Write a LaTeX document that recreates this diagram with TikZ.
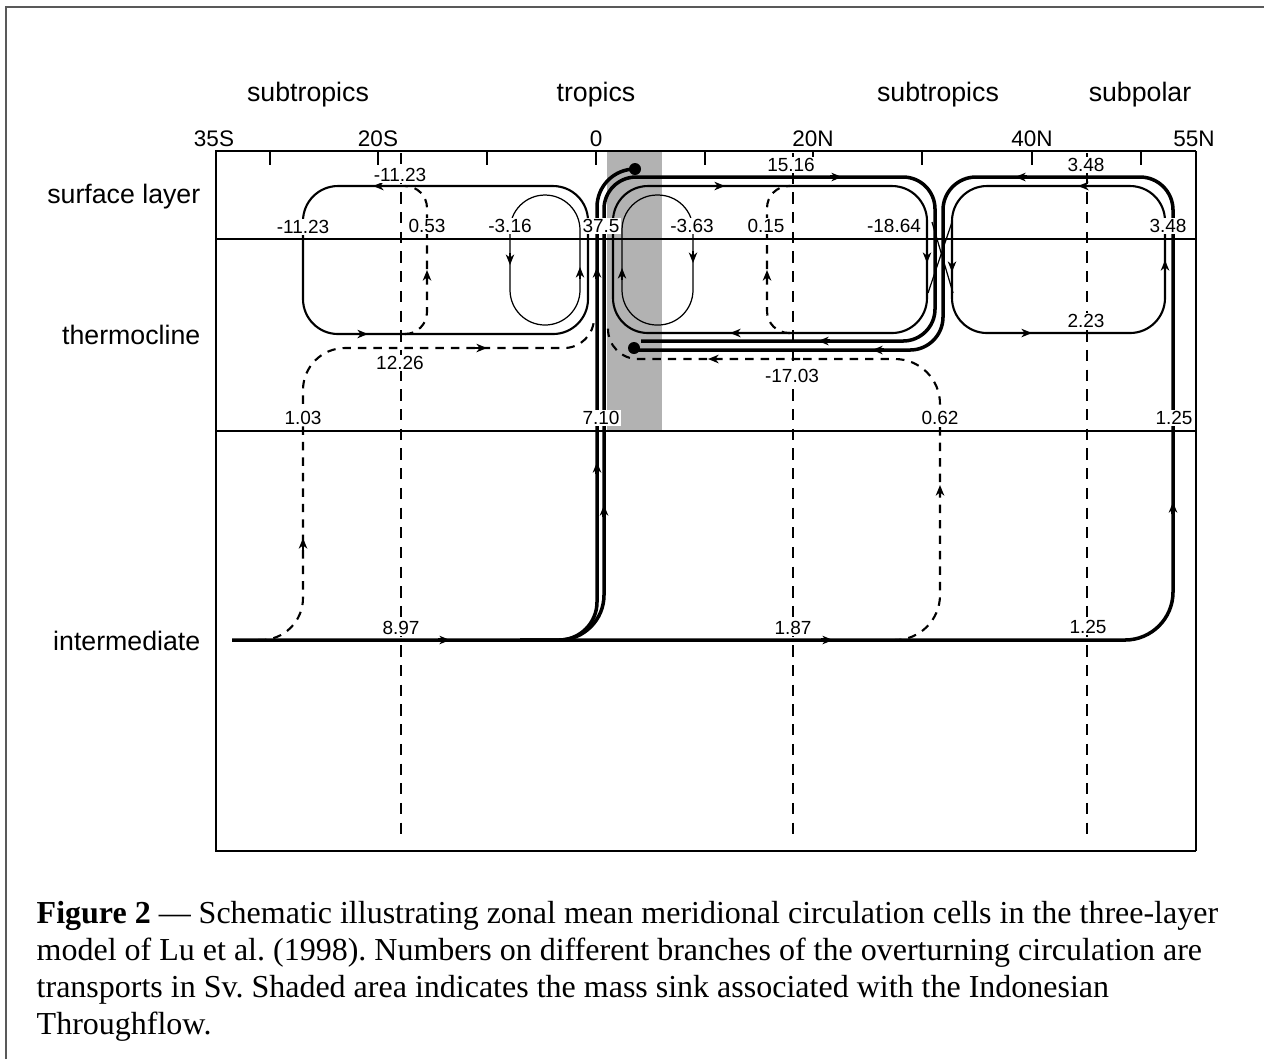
\documentclass[tikz,border=0pt]{standalone}
\usepackage{fontspec}
\setmainfont{Liberation Serif}
\newfontfamily\diagfont{Liberation Sans}
\usepackage{tikz}
\usetikzlibrary{arrows.meta}
\frenchspacing

\begin{document}
\begin{tikzpicture}[x=0.01cm,y=-0.01cm]
          \tikzstyle{frameline}=[line width=0.4pt]
          \tikzstyle{layerline}=[line width=0.35pt]
          \tikzstyle{refdash}=[line width=0.45pt,dash pattern=on 3.2pt off 2.4pt]
          \tikzstyle{thinflow}=[line width=0.35pt]
          \tikzstyle{cellflow}=[line width=0.6pt]
          \tikzstyle{thickflow}=[line width=1pt]
          \tikzstyle{dashflow}=[line width=0.6pt,dash pattern=on 2.4pt off 2pt]
          \tikzstyle{flowtip}=[solid,-{Stealth[length=3pt,width=2.4pt,inset=0.9pt]}]
          \tikzstyle{num}=[font=\diagfont\fontsize{5.4}{6}\selectfont,fill=white,inner sep=0.3pt]
          \tikzstyle{latlabel}=[font=\diagfont\fontsize{6.4}{7}\selectfont,anchor=base,inner sep=0pt]
          \tikzstyle{zonelabel}=[font=\diagfont\fontsize{7.6}{9}\selectfont,anchor=base,inner sep=0pt]
          \tikzstyle{layerlabel}=[font=\diagfont\fontsize{7.6}{9}\selectfont,anchor=base east,inner sep=0pt]
          \tikzstyle{captiontext}=[font=\fontsize{9.1}{10.5}\selectfont,align=left,inner sep=0pt,anchor=north west]
          \useasboundingbox (0,0) rectangle (1264,1059);
          \draw[line width=0.6pt,black!65] (6,1059) -- (6,7) -- (1264,7);
          % mass sink (Indonesian Throughflow)
          \fill[black!30] (607,151) rectangle (662,431);
          % reference latitudes
          \foreach \xx in {401,793,1087}
            \draw[refdash] (\xx,153) -- (\xx,840);
          % frame, layers and ticks
          \draw[frameline] (1196,151) -- (216,151) -- (216,851) -- (1196,851);
          \draw[line width=0.7pt] (1196,151) -- (1196,851);
          \draw[layerline] (216,239) -- (1196,239);
          \draw[layerline] (216,431) -- (1196,431);
          \foreach \xx in {270,378,487,596,705,813,922,1032,1141}
            \draw[frameline] (\xx,151) -- (\xx,165);
          % closed cells
          \draw[cellflow,rounded corners=0.35cm] (303,186) rectangle (588,334);
          \draw[thinflow,rounded corners=0.35cm] (510,195) rectangle (580,325);
          \draw[cellflow,rounded corners=0.35cm] (613,186) rectangle (927,333);
          \draw[thinflow,rounded corners=0.35cm] (622,195) rectangle (693,325);
          \draw[cellflow,rounded corners=0.35cm] (952,186) rectangle (1165,333);
          \draw[thinflow] (932,222) -- (953,293);
          \draw[thinflow] (952,222) -- (928,293);
          % thick branches
          \draw[thickflow,rounded corners=0.48cm] (232,640) -| (1173,420);
          \draw[thickflow,rounded corners=0.33cm] (1173,420) -- (1173,177) -- (943,177) -- (943,350) -- (634,350);
          \draw[thickflow,rounded corners=0.38cm] (520,640) -- (597,640) -- (597,169) -- (635,169);
          \draw[thickflow,rounded corners=0.45cm] (520,640) -- (604,640) -- (604,420);
          \draw[thickflow,rounded corners=0.32cm] (604,420) -- (604,177) -- (935,177) -- (935,341) -- (641,341);
          \fill (635,169) circle[radius=0.06cm];
          \fill (634,348) circle[radius=0.06cm];
          % dashed branches
          \draw[dashflow,rounded corners=0.42cm] (258,640) -- (303,640) -- (303,348) -- (520,348);
          \draw[dashflow,rounded corners=0.3cm] (520,348) -- (594,348) -- (594,318);
          \draw[dashflow,rounded corners=0.22cm] (405,334) -- (427,334) -- (427,186) -- (405,186);
          \draw[dashflow,rounded corners=0.22cm] (790,333) -- (767,333) -- (767,186) -- (790,186);
          \draw[dashflow,rounded corners=0.45cm] (897,640) -- (940,640) -- (940,359) -- (800,359);
          \draw[dashflow,rounded corners=0.3cm] (800,359) -- (608,359) -- (608,327);
          % arrow heads
          \draw[cellflow,flowtip] (385,186) -- (373,186);
          \draw[cellflow,flowtip] (356,334) -- (368,334);
          \draw[thinflow,flowtip] (510,253) -- (510,265);
          \draw[thinflow,flowtip] (580,279) -- (580,267);
          \draw[thickflow,flowtip] (597,279) -- (597,267);
          \draw[thinflow,flowtip] (622,280) -- (622,268);
          \draw[thinflow,flowtip] (693,251) -- (693,263);
          \draw[dashflow,flowtip] (427,282) -- (427,270);
          \draw[dashflow,flowtip] (767,282) -- (767,270);
          \draw[cellflow,flowtip] (713,186) -- (725,186);
          \draw[cellflow,flowtip] (742,333) -- (730,333);
          \draw[thickflow,flowtip] (830,177) -- (842,177);
          \draw[cellflow,flowtip] (927,251) -- (927,263);
          \draw[thickflow,flowtip] (830,341) -- (818,341);
          \draw[thickflow,flowtip] (884,350) -- (872,350);
          \draw[dashflow,flowtip] (720,359) -- (708,359);
          \draw[thickflow,flowtip] (1027,177) -- (1015,177);
          \draw[cellflow,flowtip] (1090,186) -- (1078,186);
          \draw[cellflow,flowtip] (952,260) -- (952,272);
          \draw[cellflow,flowtip] (1165,272) -- (1165,260);
          \draw[cellflow,flowtip] (1020,333) -- (1032,333);
          \draw[thickflow,flowtip] (1173,514) -- (1173,502);
          \draw[thickflow,flowtip] (597,474) -- (597,462);
          \draw[thickflow,flowtip] (604,517) -- (604,505);
          \draw[thickflow,flowtip] (438,640) -- (450,640);
          \draw[thickflow,flowtip] (821,640) -- (833,640);
          \draw[dashflow,flowtip] (303,550) -- (303,538);
          \draw[dashflow,flowtip] (475,348) -- (487,348);
          \draw[dashflow,flowtip] (940,497) -- (940,485);
          % transports (Sv)
          \node[num] (stctop) at (400,175) {-11.23};
          \node[num] (stcwest) at (303,227) {-11.23};
          \node[num] (sleak) at (427,226) {0.53};
          \node[num] (seqcell) at (510,226) {-3.16};
          \node[num] (equp) at (601,226) {37.5};
          \node[num] (neqcell) at (692,226) {-3.63};
          \node[num] (nleak) at (766,226) {0.15};
          \node[num] (nstctop) at (791,165) {15.16};
          \node[num] (nstcdown) at (894,226) {-18.64};
          \node[num] (spgtop) at (1086,165) {3.48};
          \node[num] (spgeast) at (1168,226) {3.48};
          \node[num] (spgbot) at (1086,321) {2.23};
          \node[num] (sthermo) at (400,363) {12.26};
          \node[num] (nthermo) at (792,376) {-17.03};
          \node[num] (sup) at (303,418) {1.03};
          \node[num] (eqdeep) at (601,418) {7.10};
          \node[num] (nup) at (940,418) {0.62};
          \node[num] (spgup) at (1174,418) {1.25};
          \node[num] (sdeep) at (401,628) {8.97};
          \node[num] (ndeep) at (793,628) {1.87};
          \node[num] (spgdeep) at (1088,627) {1.25};
          % latitudes, zones, layers
          \node[latlabel] (lat35s) at (214,146) {35S};
          \node[latlabel] (lat20s) at (378,146) {20S};
          \node[latlabel] (lat0) at (596,146) {0};
          \node[latlabel] (lat20n) at (813,146) {20N};
          \node[latlabel] (lat40n) at (1032,146) {40N};
          \node[latlabel] (lat55n) at (1194,146) {55N};
          \node[zonelabel] (zsubtrs) at (308,101) {subtropics};
          \node[zonelabel] (ztrop) at (596,101) {tropics};
          \node[zonelabel] (zsubtrn) at (938,101) {subtropics};
          \node[zonelabel] (zsubpol) at (1140,101) {subpolar};
          \node[layerlabel] (lsurf) at (201,203) {surface layer};
          \node[layerlabel] (lthermo) at (201,344) {thermocline};
          \node[layerlabel] (linter) at (201,650) {intermediate};
          \node[captiontext] (caption) at (36,901) {\textbf{Figure 2} — Schematic illustrating zonal mean meridional circulation cells in the three-layer\\
            model of Lu et al. (1998). Numbers on different branches of the overturning circulation are\\
            transports in Sv. Shaded area indicates the mass sink associated with the Indonesian\\
            Throughflow.};
        \end{tikzpicture}
\end{document}
